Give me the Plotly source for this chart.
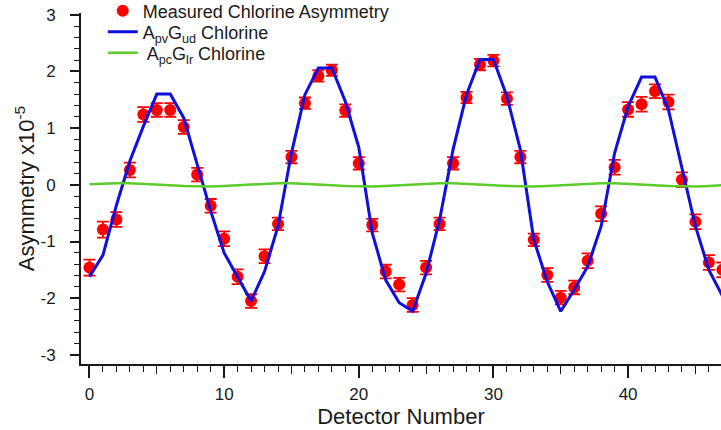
import plotly.graph_objects as go

detectors = list(range(48))

measured = [-1.46, -0.79, -0.61, 0.26, 1.24, 1.32, 1.32, 1.02, 0.18, -0.37,
            -0.95, -1.62, -2.05, -1.26, -0.69, 0.49, 1.44, 1.92, 2.02, 1.31,
            0.38, -0.71, -1.53, -1.76, -2.12, -1.46, -0.69, 0.38, 1.54, 2.12,
            2.19, 1.52, 0.49, -0.97, -1.59, -1.99, -1.81, -1.34, -0.51, 0.31,
            1.33, 1.42, 1.65, 1.46, 0.09, -0.65, -1.37, -1.50]

errors = [0.14, 0.14, 0.13, 0.13, 0.13, 0.12, 0.12, 0.12, 0.12, 0.12,
          0.13, 0.13, 0.12, 0.12, 0.11, 0.11, 0.1, 0.1, 0.1, 0.11,
          0.11, 0.11, 0.12, 0.12, 0.12, 0.12, 0.11, 0.11, 0.1, 0.1,
          0.1, 0.11, 0.11, 0.11, 0.12, 0.12, 0.12, 0.13, 0.13, 0.13,
          0.13, 0.13, 0.12, 0.13, 0.13, 0.13, 0.13, 0.13]

apv_gud = [-1.62, -1.24, -0.36, 0.42, 1.03, 1.60, 1.60, 1.18, 0.36, -0.46,
           -1.20, -1.62, -2.05, -1.53, -0.73, 0.56, 1.59, 2.06, 2.06, 1.47,
           0.66, -0.85, -1.68, -2.08, -2.23, -1.56, -0.62, 0.62, 1.59, 2.21,
           2.21, 1.56, 0.62, -0.97, -1.71, -2.23, -1.85, -1.44, -0.73, 0.56,
           1.38, 1.90, 1.90, 1.32, 0.32, -0.73, -1.50, -1.96]

apc_glr = [0.008, 0.020, 0.029, 0.029, 0.021, 0.008, -0.008, -0.021, -0.029, -0.029,
           -0.021, -0.008, 0.008, 0.021, 0.029, 0.029, 0.021, 0.008, -0.008, -0.021,
           -0.029, -0.029, -0.021, -0.008, 0.008, 0.021, 0.029, 0.029, 0.021, 0.008,
           -0.008, -0.021, -0.029, -0.029, -0.021, -0.008, 0.008, 0.021, 0.029, 0.029,
           0.021, 0.008, -0.008, -0.021, -0.029, -0.029, -0.021, -0.008]

x_tick_vals = [0, 10, 20, 30, 40]
x_tick_text = ["0", "10", "20", "30", "40"]
y_tick_vals = [-3, -2, -1, 0, 1, 2, 3]
y_tick_text = ["-3", "-2", "-1", "0", "1", "2", "3"]

FONT = "Liberation Sans, Arial, sans-serif"
INK = "#1a1a1a"
RED = "#ff0000"
BLUE = "#0f0fe0"
GREEN = "#5ccc2c"

fig = go.Figure()

fig.add_trace(go.Scatter(
    x=detectors, y=measured, mode="markers",
    name="Measured Chlorine Asymmetry", legend="legend",
    marker=dict(color=RED, size=12, line=dict(width=0)),
    error_y=dict(type="data", array=errors, visible=True, color=RED,
                 thickness=1.8, width=6),
))
fig.add_trace(go.Scatter(
    x=detectors, y=apv_gud, mode="lines",
    name="A<sub>pv</sub>G<sub>ud</sub> Chlorine", legend="legend2",
    line=dict(color=BLUE, width=3),
))
fig.add_trace(go.Scatter(
    x=detectors, y=apc_glr, mode="lines",
    name=" A<sub>pc</sub>G<sub>lr</sub> Chlorine", legend="legend3",
    line=dict(color=GREEN, width=2.5),
))
# helper (empty) trace so the medium-tick overlay axis is drawn
fig.add_trace(go.Scatter(x=[], y=[], xaxis="x2", showlegend=False, hoverinfo="skip"))

FIG_W, FIG_H = 721, 430
PLOT_LEFT, PLOT_TOP, PLOT_BOTTOM = 81, 13, 364
H = PLOT_BOTTOM - PLOT_TOP


def leg(ypx):
    return dict(x=0.034, y=(PLOT_BOTTOM - ypx) / H, xanchor="left", yanchor="middle",
                bgcolor="rgba(0,0,0,0)", font=dict(size=18, family=FONT, color=INK),
                itemwidth=30)


fig.update_layout(
    width=FIG_W, height=FIG_H,
    margin=dict(l=PLOT_LEFT, r=0, t=PLOT_TOP, b=FIG_H - PLOT_BOTTOM, autoexpand=False),
    paper_bgcolor="white", plot_bgcolor="white",
    font=dict(family=FONT, size=17, color=INK),
    showlegend=True,
    legend=leg(11), legend2=leg(32), legend3=leg(53),
    xaxis=dict(
        range=[-0.63, 46.9], tickmode="array", tickvals=x_tick_vals,
        ticktext=x_tick_text,
        ticks="outside", ticklen=12, tickwidth=1.6, tickcolor=INK,
        minor=dict(dtick=1, tick0=0, ticks="outside", ticklen=6, tickwidth=1.4,
                   tickcolor=INK, showgrid=False),
        showline=True, linecolor=INK, linewidth=1.8,
        showgrid=False, zeroline=False, automargin=False,
        tickfont=dict(size=17, family=FONT), ticklabelstandoff=2,
        title=dict(text="Detector Number", font=dict(size=22, family=FONT), standoff=0),
    ),
    xaxis2=dict(
        overlaying="x", matches="x", anchor="y", side="bottom",
        tickmode="array", tickvals=[5, 15, 25, 35, 45],
        ticks="outside", ticklen=9, tickwidth=1.4, tickcolor=INK,
        showticklabels=False, showline=False, showgrid=False, zeroline=False,
    ),
    yaxis=dict(
        range=[-3.16, 3.03], tickmode="array", tickvals=y_tick_vals,
        ticktext=y_tick_text,
        ticks="outside", ticklen=9, tickwidth=1.6, tickcolor=INK,
        minor=dict(dtick=0.2, tick0=0, ticks="outside", ticklen=5, tickwidth=1.4,
                   tickcolor=INK, showgrid=False),
        showline=True, linecolor=INK, linewidth=1.8,
        showgrid=False, zeroline=False, automargin=False,
        tickfont=dict(size=17, family=FONT), ticklabelstandoff=11,
        title=dict(text="Asymmetry x10<sup>-5</sup>", font=dict(size=22, family=FONT), standoff=0),
    ),
)

# remove the browser's default 8px body margin so the figure fills the window
fig.write_html("out.html", config={"displayModeBar": False},
               post_script="document.body.style.margin='0';")
